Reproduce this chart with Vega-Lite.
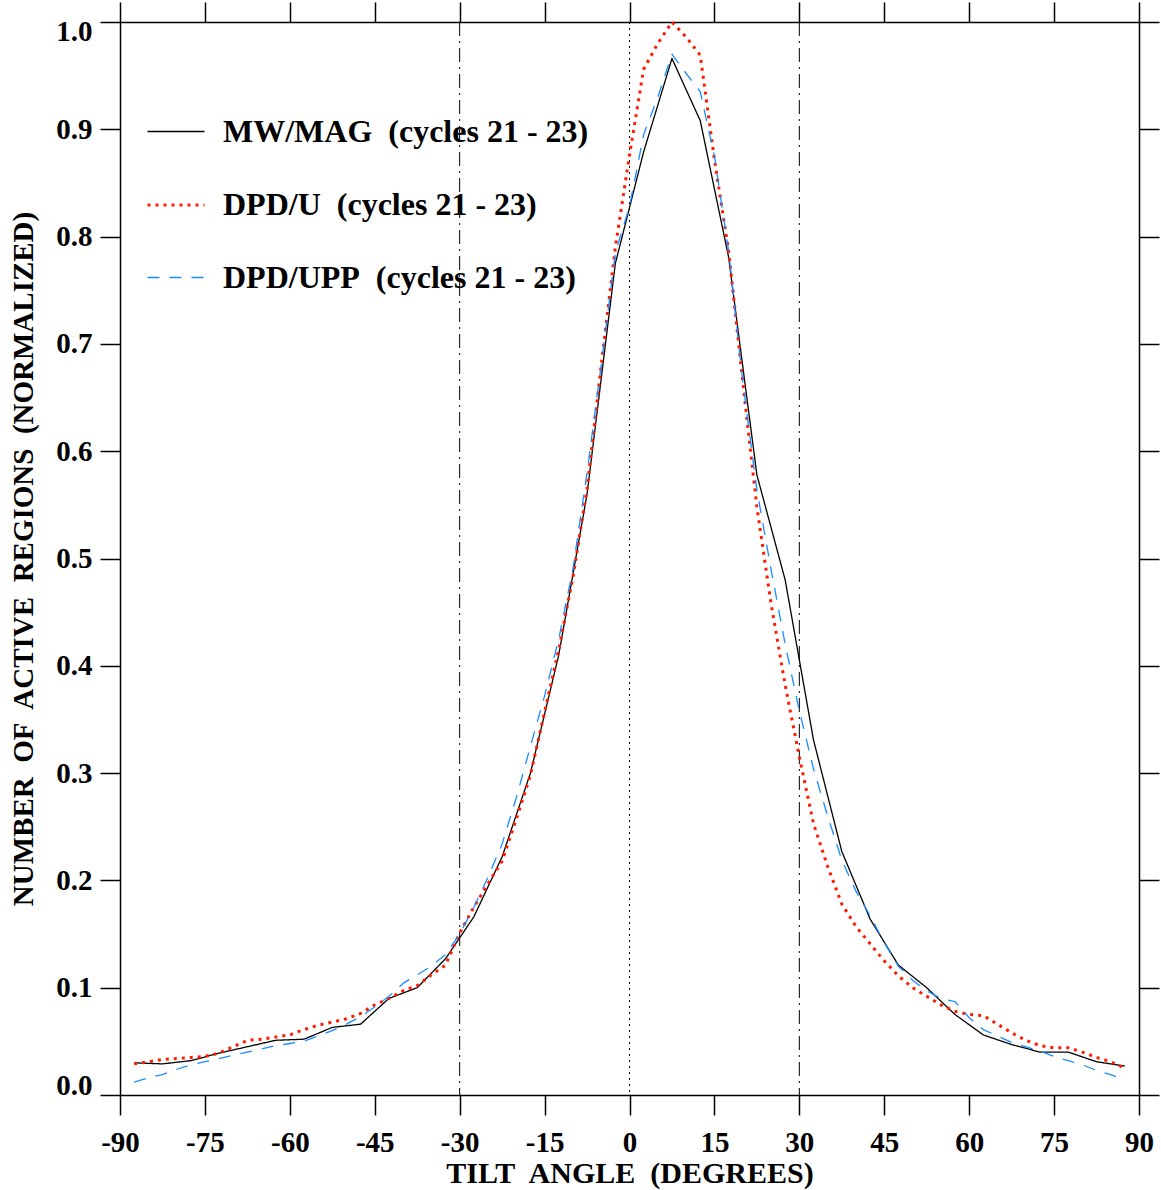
{
  "$schema": "https://vega.github.io/schema/vega-lite/v6.json",
  "autosize": {"type": "none"},
  "width": 1019,
  "height": 1073,
  "padding": {"left": 120, "top": 22, "right": 22, "bottom": 95},
  "background": "white",
  "config": {
    "view": {"stroke": null},
    "axis": {
      "labelFont": "Liberation Serif", "labelFontWeight": "bold", "labelFontSize": 29, "labelColor": "black",
      "titleFont": "Liberation Serif", "titleFontWeight": "bold", "titleFontSize": 30, "titleColor": "black",
      "tickColor": "black", "tickSize": 20, "tickWidth": 1.5, "domainColor": "black", "domainWidth": 1.5, "grid": false
    },
    "legend": {
      "labelFont": "Liberation Serif", "labelFontWeight": "bold", "labelFontSize": 32, "labelColor": "black"
    }
  },
  "datasets": {
    "curves": [
      {"series": "MW/MAG\u00a0 (cycles 21 - 23)", "tilt": -87.5, "n": 0.030},
      {"series": "MW/MAG\u00a0 (cycles 21 - 23)", "tilt": -82.5, "n": 0.029},
      {"series": "MW/MAG\u00a0 (cycles 21 - 23)", "tilt": -77.5, "n": 0.032},
      {"series": "MW/MAG\u00a0 (cycles 21 - 23)", "tilt": -72.5, "n": 0.039},
      {"series": "MW/MAG\u00a0 (cycles 21 - 23)", "tilt": -67.5, "n": 0.045},
      {"series": "MW/MAG\u00a0 (cycles 21 - 23)", "tilt": -62.5, "n": 0.051},
      {"series": "MW/MAG\u00a0 (cycles 21 - 23)", "tilt": -57.5, "n": 0.052},
      {"series": "MW/MAG\u00a0 (cycles 21 - 23)", "tilt": -52.5, "n": 0.063},
      {"series": "MW/MAG\u00a0 (cycles 21 - 23)", "tilt": -47.5, "n": 0.066},
      {"series": "MW/MAG\u00a0 (cycles 21 - 23)", "tilt": -42.5, "n": 0.090},
      {"series": "MW/MAG\u00a0 (cycles 21 - 23)", "tilt": -37.5, "n": 0.100},
      {"series": "MW/MAG\u00a0 (cycles 21 - 23)", "tilt": -32.5, "n": 0.127},
      {"series": "MW/MAG\u00a0 (cycles 21 - 23)", "tilt": -27.5, "n": 0.166},
      {"series": "MW/MAG\u00a0 (cycles 21 - 23)", "tilt": -22.5, "n": 0.222},
      {"series": "MW/MAG\u00a0 (cycles 21 - 23)", "tilt": -17.5, "n": 0.300},
      {"series": "MW/MAG\u00a0 (cycles 21 - 23)", "tilt": -12.5, "n": 0.410},
      {"series": "MW/MAG\u00a0 (cycles 21 - 23)", "tilt": -7.5, "n": 0.560},
      {"series": "MW/MAG\u00a0 (cycles 21 - 23)", "tilt": -2.5, "n": 0.775},
      {"series": "MW/MAG\u00a0 (cycles 21 - 23)", "tilt": 2.5, "n": 0.879},
      {"series": "MW/MAG\u00a0 (cycles 21 - 23)", "tilt": 7.5, "n": 0.966},
      {"series": "MW/MAG\u00a0 (cycles 21 - 23)", "tilt": 12.5, "n": 0.908},
      {"series": "MW/MAG\u00a0 (cycles 21 - 23)", "tilt": 17.5, "n": 0.781},
      {"series": "MW/MAG\u00a0 (cycles 21 - 23)", "tilt": 22.5, "n": 0.578},
      {"series": "MW/MAG\u00a0 (cycles 21 - 23)", "tilt": 27.5, "n": 0.480},
      {"series": "MW/MAG\u00a0 (cycles 21 - 23)", "tilt": 32.5, "n": 0.331},
      {"series": "MW/MAG\u00a0 (cycles 21 - 23)", "tilt": 37.5, "n": 0.227},
      {"series": "MW/MAG\u00a0 (cycles 21 - 23)", "tilt": 42.5, "n": 0.164},
      {"series": "MW/MAG\u00a0 (cycles 21 - 23)", "tilt": 47.5, "n": 0.121},
      {"series": "MW/MAG\u00a0 (cycles 21 - 23)", "tilt": 52.5, "n": 0.100},
      {"series": "MW/MAG\u00a0 (cycles 21 - 23)", "tilt": 57.5, "n": 0.075},
      {"series": "MW/MAG\u00a0 (cycles 21 - 23)", "tilt": 62.5, "n": 0.056},
      {"series": "MW/MAG\u00a0 (cycles 21 - 23)", "tilt": 67.5, "n": 0.047},
      {"series": "MW/MAG\u00a0 (cycles 21 - 23)", "tilt": 72.5, "n": 0.040},
      {"series": "MW/MAG\u00a0 (cycles 21 - 23)", "tilt": 77.5, "n": 0.040},
      {"series": "MW/MAG\u00a0 (cycles 21 - 23)", "tilt": 82.5, "n": 0.031},
      {"series": "MW/MAG\u00a0 (cycles 21 - 23)", "tilt": 87.5, "n": 0.027},

      {"series": "DPD/U\u00a0 (cycles 21 - 23)", "tilt": -87.5, "n": 0.029},
      {"series": "DPD/U\u00a0 (cycles 21 - 23)", "tilt": -85, "n": 0.031},
      {"series": "DPD/U\u00a0 (cycles 21 - 23)", "tilt": -82.5, "n": 0.033},
      {"series": "DPD/U\u00a0 (cycles 21 - 23)", "tilt": -80, "n": 0.034},
      {"series": "DPD/U\u00a0 (cycles 21 - 23)", "tilt": -77.5, "n": 0.035},
      {"series": "DPD/U\u00a0 (cycles 21 - 23)", "tilt": -75, "n": 0.036},
      {"series": "DPD/U\u00a0 (cycles 21 - 23)", "tilt": -72.5, "n": 0.039},
      {"series": "DPD/U\u00a0 (cycles 21 - 23)", "tilt": -70, "n": 0.045},
      {"series": "DPD/U\u00a0 (cycles 21 - 23)", "tilt": -67.5, "n": 0.051},
      {"series": "DPD/U\u00a0 (cycles 21 - 23)", "tilt": -65, "n": 0.052},
      {"series": "DPD/U\u00a0 (cycles 21 - 23)", "tilt": -62.5, "n": 0.054},
      {"series": "DPD/U\u00a0 (cycles 21 - 23)", "tilt": -60, "n": 0.056},
      {"series": "DPD/U\u00a0 (cycles 21 - 23)", "tilt": -57.5, "n": 0.061},
      {"series": "DPD/U\u00a0 (cycles 21 - 23)", "tilt": -55, "n": 0.065},
      {"series": "DPD/U\u00a0 (cycles 21 - 23)", "tilt": -52.5, "n": 0.068},
      {"series": "DPD/U\u00a0 (cycles 21 - 23)", "tilt": -50, "n": 0.071},
      {"series": "DPD/U\u00a0 (cycles 21 - 23)", "tilt": -47.5, "n": 0.076},
      {"series": "DPD/U\u00a0 (cycles 21 - 23)", "tilt": -45, "n": 0.084},
      {"series": "DPD/U\u00a0 (cycles 21 - 23)", "tilt": -42.5, "n": 0.090},
      {"series": "DPD/U\u00a0 (cycles 21 - 23)", "tilt": -40, "n": 0.097},
      {"series": "DPD/U\u00a0 (cycles 21 - 23)", "tilt": -37.5, "n": 0.102},
      {"series": "DPD/U\u00a0 (cycles 21 - 23)", "tilt": -35, "n": 0.112},
      {"series": "DPD/U\u00a0 (cycles 21 - 23)", "tilt": -32.5, "n": 0.121},
      {"series": "DPD/U\u00a0 (cycles 21 - 23)", "tilt": -30, "n": 0.151},
      {"series": "DPD/U\u00a0 (cycles 21 - 23)", "tilt": -27.5, "n": 0.175},
      {"series": "DPD/U\u00a0 (cycles 21 - 23)", "tilt": -25, "n": 0.197},
      {"series": "DPD/U\u00a0 (cycles 21 - 23)", "tilt": -22.5, "n": 0.218},
      {"series": "DPD/U\u00a0 (cycles 21 - 23)", "tilt": -20, "n": 0.257},
      {"series": "DPD/U\u00a0 (cycles 21 - 23)", "tilt": -17.5, "n": 0.298},
      {"series": "DPD/U\u00a0 (cycles 21 - 23)", "tilt": -15, "n": 0.357},
      {"series": "DPD/U\u00a0 (cycles 21 - 23)", "tilt": -12.5, "n": 0.415},
      {"series": "DPD/U\u00a0 (cycles 21 - 23)", "tilt": -10, "n": 0.482},
      {"series": "DPD/U\u00a0 (cycles 21 - 23)", "tilt": -7.5, "n": 0.565},
      {"series": "DPD/U\u00a0 (cycles 21 - 23)", "tilt": -5, "n": 0.680},
      {"series": "DPD/U\u00a0 (cycles 21 - 23)", "tilt": -2.5, "n": 0.790},
      {"series": "DPD/U\u00a0 (cycles 21 - 23)", "tilt": 0, "n": 0.876},
      {"series": "DPD/U\u00a0 (cycles 21 - 23)", "tilt": 2.5, "n": 0.956},
      {"series": "DPD/U\u00a0 (cycles 21 - 23)", "tilt": 5, "n": 0.980},
      {"series": "DPD/U\u00a0 (cycles 21 - 23)", "tilt": 7.5, "n": 1.0},
      {"series": "DPD/U\u00a0 (cycles 21 - 23)", "tilt": 10, "n": 0.986},
      {"series": "DPD/U\u00a0 (cycles 21 - 23)", "tilt": 12.5, "n": 0.969},
      {"series": "DPD/U\u00a0 (cycles 21 - 23)", "tilt": 15, "n": 0.872},
      {"series": "DPD/U\u00a0 (cycles 21 - 23)", "tilt": 17.5, "n": 0.787},
      {"series": "DPD/U\u00a0 (cycles 21 - 23)", "tilt": 20, "n": 0.665},
      {"series": "DPD/U\u00a0 (cycles 21 - 23)", "tilt": 22.5, "n": 0.548},
      {"series": "DPD/U\u00a0 (cycles 21 - 23)", "tilt": 25, "n": 0.458},
      {"series": "DPD/U\u00a0 (cycles 21 - 23)", "tilt": 27.5, "n": 0.382},
      {"series": "DPD/U\u00a0 (cycles 21 - 23)", "tilt": 30, "n": 0.315},
      {"series": "DPD/U\u00a0 (cycles 21 - 23)", "tilt": 32.5, "n": 0.253},
      {"series": "DPD/U\u00a0 (cycles 21 - 23)", "tilt": 35, "n": 0.213},
      {"series": "DPD/U\u00a0 (cycles 21 - 23)", "tilt": 37.5, "n": 0.178},
      {"series": "DPD/U\u00a0 (cycles 21 - 23)", "tilt": 40, "n": 0.157},
      {"series": "DPD/U\u00a0 (cycles 21 - 23)", "tilt": 42.5, "n": 0.141},
      {"series": "DPD/U\u00a0 (cycles 21 - 23)", "tilt": 45, "n": 0.125},
      {"series": "DPD/U\u00a0 (cycles 21 - 23)", "tilt": 47.5, "n": 0.111},
      {"series": "DPD/U\u00a0 (cycles 21 - 23)", "tilt": 50, "n": 0.100},
      {"series": "DPD/U\u00a0 (cycles 21 - 23)", "tilt": 52.5, "n": 0.092},
      {"series": "DPD/U\u00a0 (cycles 21 - 23)", "tilt": 55, "n": 0.084},
      {"series": "DPD/U\u00a0 (cycles 21 - 23)", "tilt": 57.5, "n": 0.078},
      {"series": "DPD/U\u00a0 (cycles 21 - 23)", "tilt": 60, "n": 0.075},
      {"series": "DPD/U\u00a0 (cycles 21 - 23)", "tilt": 62.5, "n": 0.074},
      {"series": "DPD/U\u00a0 (cycles 21 - 23)", "tilt": 65, "n": 0.066},
      {"series": "DPD/U\u00a0 (cycles 21 - 23)", "tilt": 67.5, "n": 0.058},
      {"series": "DPD/U\u00a0 (cycles 21 - 23)", "tilt": 70, "n": 0.051},
      {"series": "DPD/U\u00a0 (cycles 21 - 23)", "tilt": 72.5, "n": 0.046},
      {"series": "DPD/U\u00a0 (cycles 21 - 23)", "tilt": 75, "n": 0.044},
      {"series": "DPD/U\u00a0 (cycles 21 - 23)", "tilt": 77.5, "n": 0.044},
      {"series": "DPD/U\u00a0 (cycles 21 - 23)", "tilt": 80, "n": 0.040},
      {"series": "DPD/U\u00a0 (cycles 21 - 23)", "tilt": 82.5, "n": 0.035},
      {"series": "DPD/U\u00a0 (cycles 21 - 23)", "tilt": 85, "n": 0.031},
      {"series": "DPD/U\u00a0 (cycles 21 - 23)", "tilt": 87.5, "n": 0.025},

      {"series": "DPD/UPP\u00a0 (cycles 21 - 23)", "tilt": -87.5, "n": 0.012},
      {"series": "DPD/UPP\u00a0 (cycles 21 - 23)", "tilt": -85, "n": 0.016},
      {"series": "DPD/UPP\u00a0 (cycles 21 - 23)", "tilt": -82.5, "n": 0.019},
      {"series": "DPD/UPP\u00a0 (cycles 21 - 23)", "tilt": -80, "n": 0.024},
      {"series": "DPD/UPP\u00a0 (cycles 21 - 23)", "tilt": -77.5, "n": 0.028},
      {"series": "DPD/UPP\u00a0 (cycles 21 - 23)", "tilt": -75, "n": 0.031},
      {"series": "DPD/UPP\u00a0 (cycles 21 - 23)", "tilt": -72.5, "n": 0.034},
      {"series": "DPD/UPP\u00a0 (cycles 21 - 23)", "tilt": -70, "n": 0.037},
      {"series": "DPD/UPP\u00a0 (cycles 21 - 23)", "tilt": -67.5, "n": 0.040},
      {"series": "DPD/UPP\u00a0 (cycles 21 - 23)", "tilt": -65, "n": 0.043},
      {"series": "DPD/UPP\u00a0 (cycles 21 - 23)", "tilt": -62.5, "n": 0.046},
      {"series": "DPD/UPP\u00a0 (cycles 21 - 23)", "tilt": -60, "n": 0.048},
      {"series": "DPD/UPP\u00a0 (cycles 21 - 23)", "tilt": -57.5, "n": 0.050},
      {"series": "DPD/UPP\u00a0 (cycles 21 - 23)", "tilt": -55, "n": 0.055},
      {"series": "DPD/UPP\u00a0 (cycles 21 - 23)", "tilt": -52.5, "n": 0.060},
      {"series": "DPD/UPP\u00a0 (cycles 21 - 23)", "tilt": -50, "n": 0.066},
      {"series": "DPD/UPP\u00a0 (cycles 21 - 23)", "tilt": -47.5, "n": 0.073},
      {"series": "DPD/UPP\u00a0 (cycles 21 - 23)", "tilt": -45, "n": 0.082},
      {"series": "DPD/UPP\u00a0 (cycles 21 - 23)", "tilt": -42.5, "n": 0.092},
      {"series": "DPD/UPP\u00a0 (cycles 21 - 23)", "tilt": -40, "n": 0.104},
      {"series": "DPD/UPP\u00a0 (cycles 21 - 23)", "tilt": -37.5, "n": 0.112},
      {"series": "DPD/UPP\u00a0 (cycles 21 - 23)", "tilt": -35, "n": 0.120},
      {"series": "DPD/UPP\u00a0 (cycles 21 - 23)", "tilt": -32.5, "n": 0.131},
      {"series": "DPD/UPP\u00a0 (cycles 21 - 23)", "tilt": -30, "n": 0.150},
      {"series": "DPD/UPP\u00a0 (cycles 21 - 23)", "tilt": -27.5, "n": 0.175},
      {"series": "DPD/UPP\u00a0 (cycles 21 - 23)", "tilt": -25, "n": 0.203},
      {"series": "DPD/UPP\u00a0 (cycles 21 - 23)", "tilt": -22.5, "n": 0.234},
      {"series": "DPD/UPP\u00a0 (cycles 21 - 23)", "tilt": -20, "n": 0.277},
      {"series": "DPD/UPP\u00a0 (cycles 21 - 23)", "tilt": -17.5, "n": 0.325},
      {"series": "DPD/UPP\u00a0 (cycles 21 - 23)", "tilt": -15, "n": 0.372},
      {"series": "DPD/UPP\u00a0 (cycles 21 - 23)", "tilt": -12.5, "n": 0.425},
      {"series": "DPD/UPP\u00a0 (cycles 21 - 23)", "tilt": -10, "n": 0.490},
      {"series": "DPD/UPP\u00a0 (cycles 21 - 23)", "tilt": -7.5, "n": 0.580},
      {"series": "DPD/UPP\u00a0 (cycles 21 - 23)", "tilt": -5, "n": 0.680},
      {"series": "DPD/UPP\u00a0 (cycles 21 - 23)", "tilt": -2.5, "n": 0.785},
      {"series": "DPD/UPP\u00a0 (cycles 21 - 23)", "tilt": 0, "n": 0.828},
      {"series": "DPD/UPP\u00a0 (cycles 21 - 23)", "tilt": 2.5, "n": 0.895},
      {"series": "DPD/UPP\u00a0 (cycles 21 - 23)", "tilt": 5, "n": 0.930},
      {"series": "DPD/UPP\u00a0 (cycles 21 - 23)", "tilt": 7.5, "n": 0.970},
      {"series": "DPD/UPP\u00a0 (cycles 21 - 23)", "tilt": 10, "n": 0.952},
      {"series": "DPD/UPP\u00a0 (cycles 21 - 23)", "tilt": 12.5, "n": 0.935},
      {"series": "DPD/UPP\u00a0 (cycles 21 - 23)", "tilt": 15, "n": 0.875},
      {"series": "DPD/UPP\u00a0 (cycles 21 - 23)", "tilt": 17.5, "n": 0.787},
      {"series": "DPD/UPP\u00a0 (cycles 21 - 23)", "tilt": 20, "n": 0.665},
      {"series": "DPD/UPP\u00a0 (cycles 21 - 23)", "tilt": 22.5, "n": 0.564},
      {"series": "DPD/UPP\u00a0 (cycles 21 - 23)", "tilt": 25, "n": 0.490},
      {"series": "DPD/UPP\u00a0 (cycles 21 - 23)", "tilt": 27.5, "n": 0.420},
      {"series": "DPD/UPP\u00a0 (cycles 21 - 23)", "tilt": 30, "n": 0.358},
      {"series": "DPD/UPP\u00a0 (cycles 21 - 23)", "tilt": 32.5, "n": 0.304},
      {"series": "DPD/UPP\u00a0 (cycles 21 - 23)", "tilt": 35, "n": 0.260},
      {"series": "DPD/UPP\u00a0 (cycles 21 - 23)", "tilt": 37.5, "n": 0.219},
      {"series": "DPD/UPP\u00a0 (cycles 21 - 23)", "tilt": 40, "n": 0.190},
      {"series": "DPD/UPP\u00a0 (cycles 21 - 23)", "tilt": 42.5, "n": 0.167},
      {"series": "DPD/UPP\u00a0 (cycles 21 - 23)", "tilt": 45, "n": 0.142},
      {"series": "DPD/UPP\u00a0 (cycles 21 - 23)", "tilt": 47.5, "n": 0.120},
      {"series": "DPD/UPP\u00a0 (cycles 21 - 23)", "tilt": 50, "n": 0.107},
      {"series": "DPD/UPP\u00a0 (cycles 21 - 23)", "tilt": 52.5, "n": 0.097},
      {"series": "DPD/UPP\u00a0 (cycles 21 - 23)", "tilt": 55, "n": 0.090},
      {"series": "DPD/UPP\u00a0 (cycles 21 - 23)", "tilt": 57.5, "n": 0.087},
      {"series": "DPD/UPP\u00a0 (cycles 21 - 23)", "tilt": 60, "n": 0.072},
      {"series": "DPD/UPP\u00a0 (cycles 21 - 23)", "tilt": 62.5, "n": 0.061},
      {"series": "DPD/UPP\u00a0 (cycles 21 - 23)", "tilt": 65, "n": 0.055},
      {"series": "DPD/UPP\u00a0 (cycles 21 - 23)", "tilt": 67.5, "n": 0.049},
      {"series": "DPD/UPP\u00a0 (cycles 21 - 23)", "tilt": 70, "n": 0.045},
      {"series": "DPD/UPP\u00a0 (cycles 21 - 23)", "tilt": 72.5, "n": 0.041},
      {"series": "DPD/UPP\u00a0 (cycles 21 - 23)", "tilt": 75, "n": 0.036},
      {"series": "DPD/UPP\u00a0 (cycles 21 - 23)", "tilt": 77.5, "n": 0.032},
      {"series": "DPD/UPP\u00a0 (cycles 21 - 23)", "tilt": 80, "n": 0.028},
      {"series": "DPD/UPP\u00a0 (cycles 21 - 23)", "tilt": 82.5, "n": 0.023},
      {"series": "DPD/UPP\u00a0 (cycles 21 - 23)", "tilt": 85, "n": 0.019},
      {"series": "DPD/UPP\u00a0 (cycles 21 - 23)", "tilt": 87.5, "n": 0.014}
    ],
    "sidelines": [{"tilt": -30}, {"tilt": 30}],
    "zeroline": [{"tilt": 0}]
  },
  "resolve": {"axis": {"x": "independent", "y": "independent"}},
  "layer": [
    {
      "data": {"name": "sidelines"},
      "mark": {"type": "rule", "color": "black", "strokeWidth": 1, "strokeDash": [14, 5, 2, 5]},
      "encoding": {
        "x": {"field": "tilt", "type": "quantitative", "scale": {"domain": [-90, 90], "nice": false},
          "axis": {"orient": "bottom", "values": [-90, -75, -60, -45, -30, -15, 0, 15, 30, 45, 60, 75, 90],
            "labelExpr": "'' + datum.value", "labelPadding": 13, "labelFlush": false, "labelOverlap": false,
            "title": "TILT\u00a0 ANGLE\u00a0 (DEGREES)", "titleBaseline": "middle", "titleY": 78, "titleX": 509.5}}
      }
    },
    {
      "data": {"name": "zeroline"},
      "mark": {"type": "rule", "color": "black", "strokeWidth": 1, "strokeDash": [2, 4]},
      "encoding": {
        "x": {"field": "tilt", "type": "quantitative", "scale": {"domain": [-90, 90], "nice": false},
          "axis": {"orient": "top", "values": [-90, -75, -60, -45, -30, -15, 0, 15, 30, 45, 60, 75, 90],
            "labels": false, "title": null}}
      }
    },
    {
      "data": {"name": "curves"},
      "mark": {"type": "line", "strokeJoin": "round"},
      "encoding": {
        "x": {"field": "tilt", "type": "quantitative", "scale": {"domain": [-90, 90], "nice": false}, "axis": null},
        "y": {"field": "n", "type": "quantitative", "scale": {"domain": [0, 1], "nice": false, "zero": false},
          "axis": {"orient": "left", "values": [0, 0.1, 0.2, 0.3, 0.4, 0.5, 0.6, 0.7, 0.8, 0.9, 1.0], "format": ".1f",
            "labelPadding": 8, "labelFlush": true, "labelFlushOffset": 5, "labelOverlap": false,
            "title": "NUMBER\u00a0 OF\u00a0 ACTIVE\u00a0 REGIONS\u00a0 (NORMALIZED)", "titleAngle": -90, "titleFontSize": 29,
            "titleBaseline": "middle", "titleAlign": "center", "titleX": -97, "titleY": 536.5}},
        "color": {"field": "series", "type": "nominal",
          "scale": {"domain": ["MW/MAG\u00a0 (cycles 21 - 23)", "DPD/U\u00a0 (cycles 21 - 23)", "DPD/UPP\u00a0 (cycles 21 - 23)"],
            "range": ["#000000", "#ff1a00", "#1a8cff"]},
          "legend": {"orient": "none", "legendX": 26, "legendY": 80, "title": null, "padding": 0,
            "symbolType": "stroke", "symbolSize": 3249, "labelOffset": 17, "rowPadding": 27, "labelLimit": 700}},
        "strokeDash": {"field": "series", "type": "nominal",
          "scale": {"domain": ["MW/MAG\u00a0 (cycles 21 - 23)", "DPD/U\u00a0 (cycles 21 - 23)", "DPD/UPP\u00a0 (cycles 21 - 23)"],
            "range": [[1, 0], [3, 5], [12, 10]]},
          "legend": {"orient": "none", "legendX": 26, "legendY": 80, "title": null, "padding": 0,
            "symbolType": "stroke", "symbolSize": 3249, "labelOffset": 17, "rowPadding": 27, "labelLimit": 700}},
        "strokeWidth": {"field": "series", "type": "nominal",
          "scale": {"type": "ordinal", "domain": ["MW/MAG\u00a0 (cycles 21 - 23)", "DPD/U\u00a0 (cycles 21 - 23)", "DPD/UPP\u00a0 (cycles 21 - 23)"],
            "range": [1.3, 3, 1.3]},
          "legend": {"orient": "none", "legendX": 26, "legendY": 80, "title": null, "padding": 0,
            "symbolType": "stroke", "symbolSize": 3249, "labelOffset": 17, "rowPadding": 27, "labelLimit": 700}}
      }
    },
    {
      "data": {"name": "zeroline"},
      "mark": {"type": "rule", "opacity": 0},
      "encoding": {
        "y": {"datum": 0, "type": "quantitative", "scale": {"domain": [0, 1], "nice": false, "zero": false},
          "axis": {"orient": "right", "values": [0, 0.1, 0.2, 0.3, 0.4, 0.5, 0.6, 0.7, 0.8, 0.9, 1.0], "labels": false, "title": null}}
      }
    }
  ]
}
